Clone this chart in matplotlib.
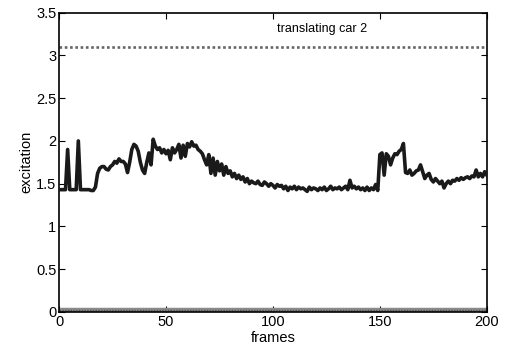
import numpy as np
import matplotlib
matplotlib.use('Agg')
import matplotlib.pyplot as plt

plt.rcParams['font.family'] = ['Liberation Sans', 'DejaVu Sans']

# excitation of the tracked object, one value per frame
frames = np.arange(0, 201)
excitation = [
    1.43, 1.43, 1.43, 1.43, 1.90, 1.43, 1.43, 1.43, 1.43, 2.00,   # 0-9
    1.43, 1.43, 1.43, 1.43, 1.43, 1.42, 1.42, 1.46, 1.62, 1.68,   # 10-19
    1.70, 1.70, 1.67, 1.66, 1.70, 1.72, 1.76, 1.74, 1.79, 1.76,   # 20-29
    1.76, 1.73, 1.63, 1.75, 1.90, 1.96, 1.94, 1.88, 1.75, 1.66,   # 30-39
    1.62, 1.75, 1.86, 1.72, 2.02, 1.94, 1.90, 1.92, 1.86, 1.90,   # 40-49
    1.85, 1.89, 1.78, 1.92, 1.86, 1.90, 1.96, 1.80, 1.95, 1.82,   # 50-59
    1.97, 1.93, 1.99, 1.94, 1.95, 1.90, 1.88, 1.85, 1.78, 1.72,   # 60-69
    1.84, 1.62, 1.80, 1.60, 1.76, 1.65, 1.73, 1.60, 1.70, 1.62,   # 70-79
    1.65, 1.58, 1.62, 1.56, 1.60, 1.55, 1.58, 1.52, 1.56, 1.50,   # 80-89
    1.53, 1.51, 1.50, 1.53, 1.49, 1.48, 1.52, 1.50, 1.47, 1.50,   # 90-99
    1.48, 1.45, 1.49, 1.47, 1.48, 1.44, 1.47, 1.42, 1.46, 1.44,   # 100-109
    1.47, 1.43, 1.46, 1.44, 1.45, 1.43, 1.41, 1.46, 1.43, 1.45,   # 110-119
    1.44, 1.42, 1.45, 1.43, 1.46, 1.42, 1.44, 1.47, 1.43, 1.45,   # 120-129
    1.44, 1.46, 1.43, 1.45, 1.47, 1.43, 1.54, 1.45, 1.47, 1.44,   # 130-139
    1.46, 1.43, 1.45, 1.42, 1.46, 1.42, 1.45, 1.43, 1.49, 1.42,   # 140-149
    1.84, 1.86, 1.60, 1.85, 1.82, 1.72, 1.80, 1.85, 1.84, 1.88,   # 150-159
    1.90, 1.97, 1.63, 1.62, 1.66, 1.60, 1.62, 1.65, 1.66, 1.72,   # 160-169
    1.64, 1.56, 1.60, 1.62, 1.55, 1.52, 1.56, 1.53, 1.50, 1.53,   # 170-179
    1.45, 1.50, 1.53, 1.50, 1.54, 1.53, 1.56, 1.54, 1.57, 1.55,   # 180-189
    1.57, 1.58, 1.56, 1.59, 1.58, 1.66, 1.58, 1.62, 1.58, 1.64,   # 190-199
    1.60,                                                         # 200
]
threshold = 3.1      # upper dotted reference level
floor_level = 0.02   # lower gray trace
title_text = 'translating car 2'

fig = plt.figure(figsize=(5.05, 3.54), dpi=100)
ax = fig.add_axes([0.117, 0.119, 0.847, 0.845])

# lower gray trace, drawn thick with a dotted overlay for texture
ax.plot(frames, np.full(len(frames), floor_level), color='#8a8a8a', lw=3.2,
        solid_capstyle='butt', zorder=2)
ax.plot(frames, np.full(len(frames), floor_level), color='#555555', lw=1.0,
        dashes=(1, 1), zorder=2)

# dotted threshold line
ax.plot(frames, np.full(len(frames), threshold), color='#666666', lw=1.9,
        dashes=(1, 1), zorder=2)

# excitation trace
ax.plot(frames, excitation, color='#1a1a1a', lw=2.6, zorder=3)

ax.text(123, 3.31, title_text, fontsize=9, ha='center', va='center')

ax.set_xlim(0, 200)
ax.set_ylim(0, 3.5)
ax.set_xticks([0, 50, 100, 150, 200])
ax.set_yticks([0, 0.5, 1, 1.5, 2, 2.5, 3, 3.5])
ax.set_yticklabels(['0', '0.5', '1', '1.5', '2', '2.5', '3', '3.5'])
ax.tick_params(direction='in', length=4, width=0.8, top=True, right=True,
               labelsize=10.5, pad=2)
for s in ax.spines.values():
    s.set_linewidth(1.2)

ax.set_xlabel('frames', fontsize=10.5, labelpad=2)
ax.set_ylabel('excitation', fontsize=10.5, labelpad=2)

fig.savefig('out.png', dpi=100)
